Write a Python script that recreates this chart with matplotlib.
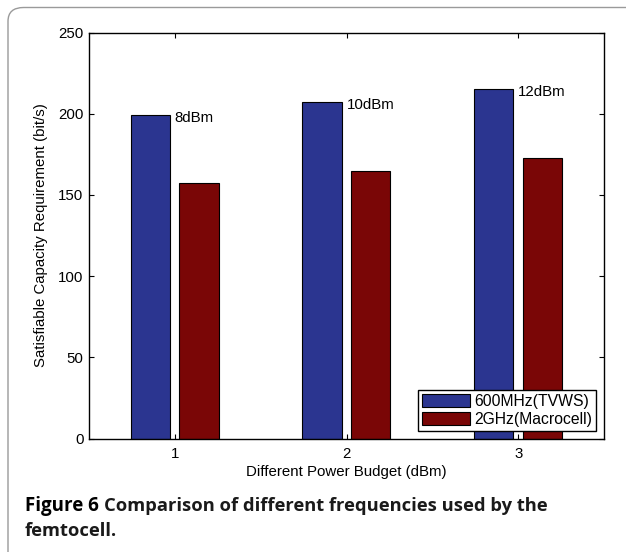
import numpy as np
import matplotlib.pyplot as plt
from matplotlib.patches import FancyBboxPatch

plt.rcParams['font.family'] = ['Liberation Sans', 'DejaVu Sans']

budgets = [1, 2, 3]
tvws = [199, 207, 215]
macro = [157.5, 164.5, 172.5]
labels = ["8dBm", "10dBm", "12dBm"]

W, H = 626, 552
fig = plt.figure(figsize=(W / 100, H / 100), dpi=100)

# rounded frame (open to the right and bottom)
frame = FancyBboxPatch((8 / W, -0.1), 1.2, 1.1 - 7.5 / H,
                       boxstyle="round,pad=0,rounding_size=0.025",
                       transform=fig.transFigure, fill=False,
                       edgecolor="#9a9a9a", linewidth=1.0)
fig.patches.append(frame)

ax = fig.add_axes([89 / W, 1 - 438.5 / H, 515 / W, 406 / H])

x = np.array(budgets)
w = 0.228
ax.bar(x - 0.143, tvws, w, color="#2b3590", edgecolor="black",
       linewidth=0.8, label="600MHz(TVWS)")
ax.bar(x + 0.141, macro, w, color="#7a0606", edgecolor="black",
       linewidth=0.8, label="2GHz(Macrocell)")

fs = 10.8
for xi, v, t in zip(x, tvws, labels):
    ax.text(xi, v - 1.5, t, fontsize=fs, ha="left", va="center")

ax.set_xlim(0.5, 3.5)
ax.set_ylim(0, 250)
ax.set_xticks(budgets)
ax.set_yticks([0, 50, 100, 150, 200, 250])
ax.tick_params(direction="in", top=True, right=True, labelsize=fs,
               length=3.6, width=0.8)
ax.tick_params(axis="x", pad=6)
ax.tick_params(axis="y", pad=4)
for s in ax.spines.values():
    s.set_linewidth(1.0)
ax.set_xlabel("Different Power Budget (dBm)", fontsize=fs, labelpad=3)
ax.set_ylabel("Satisfiable Capacity Requirement (bit/s)", fontsize=fs, labelpad=7)

leg = ax.legend(loc="lower right", fontsize=11.3, fancybox=False,
                edgecolor="black", framealpha=1, borderpad=0.25,
                handlelength=3.1, handleheight=0.9, handletextpad=0.25,
                labelspacing=0.2, borderaxespad=0.5)
leg.get_frame().set_linewidth(1.0)

# caption
cx, cy1, cy2 = 25 / W, 1 - 511 / H, 1 - 536 / H
cap_size = 13.5
t1 = fig.text(cx, cy1, "Figure 6", fontsize=cap_size, family="Open Sans",
              weight="bold", va="baseline", ha="left")
r = fig.canvas.get_renderer()
bb = t1.get_window_extent(renderer=r)
fig.text(bb.x1 / W + 5 / W, cy1, "Comparison of different frequencies used by the",
         fontsize=cap_size - 0.3, family="Open Sans", weight="bold",
         va="baseline", ha="left", color="#1a1a1a")
fig.text(cx, cy2, "femtocell.", fontsize=cap_size - 0.3, family="Open Sans",
         weight="bold", va="baseline", ha="left", color="#1a1a1a")

fig.savefig("out.png", dpi=100)
